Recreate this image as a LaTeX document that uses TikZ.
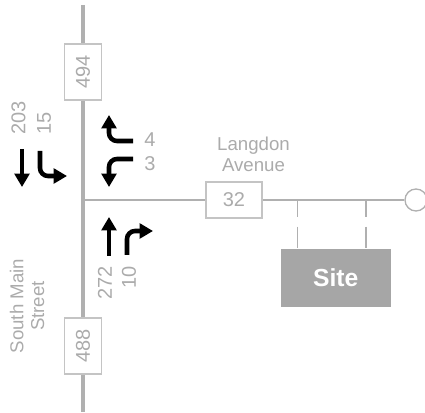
\documentclass[tikz,border=0pt]{standalone}
\usepackage{fontspec}
\setmainfont{Liberation Sans}
\usetikzlibrary{arrows.meta}
\definecolor{roadgray}{HTML}{B0B0B0}
\definecolor{textgray}{HTML}{ABABAB}
\definecolor{boxgray}{HTML}{C4C4C4}
\definecolor{sitegray}{HTML}{A6A6A6}
\tikzset{
  mainroad/.style={draw=roadgray,line width=3pt},
  sideroad/.style={draw=roadgray,line width=1.4pt},
  drive/.style={draw=roadgray,line width=1pt,dash pattern=on 13pt off 7pt on 16pt off 2pt},
  volbox/.style={draw=boxgray,fill=white,line width=0.9pt,inner sep=0pt,text=textgray,font=\fontsize{15}{18}\selectfont},
  lbl/.style={text=textgray,inner sep=0pt,font=\fontsize{15}{18}\selectfont},
  streetlbl/.style={text=textgray,inner sep=0pt,align=center,font=\fontsize{14}{16.5}\selectfont},
  mvt/.style={draw=black,line width=3.4pt,-{Triangle[length=10pt,width=11pt]}},
}
\begin{document}
\begin{tikzpicture}[x=0.75pt,y=-0.75pt]
\useasboundingbox (0,0) rectangle (425,413);
\coordinate (rt) at (83,5);
\coordinate (rb) at (83,412);
\coordinate (rj) at (83,200);
\draw[mainroad] (rt) -- (rb);
\node[draw=roadgray,line width=1pt,fill=white,circle,minimum size=16.5pt,inner sep=0pt] (cul) at (416,200) {};
\draw[sideroad] (rj) -- (cul.west);
\node[volbox,minimum width=27.5pt,minimum height=42pt] (b494) at (83,72) {\rotatebox{90}{494}};
\node[volbox,minimum width=27.5pt,minimum height=42pt] (b488) at (83,346) {\rotatebox{90}{488}};
\node[volbox,minimum width=42pt,minimum height=27pt] (b32) at (234,200) {32};
\node[fill=sitegray,minimum width=82.5pt,minimum height=43.5pt,inner sep=0pt,text=white,font=\bfseries\fontsize{18.5}{20}\selectfont] (site) at (335.7,278) {Site};
\coordinate (d1) at (297.5,200);
\coordinate (d2) at (366,200);
\draw[drive] (d1) -- (d1 |- site.north);
\draw[drive] (d2) -- (d2 |- site.north);
% street labels
\node[streetlbl,anchor=south] (ln) at (253.5,172) {Langdon\\[-1pt]Avenue};
\node[streetlbl,rotate=90] (sm) at (27,306) {South Main\\[-1pt]Street};
% volumes
\node[lbl,rotate=90,anchor=west] (v203) at (18.5,135) {203};
\node[lbl,rotate=90,anchor=west] (v15) at (44,135) {15};
\node[lbl,anchor=west] (v4) at (144,140) {4};
\node[lbl,anchor=west] (v3) at (144,164) {3};
\node[lbl,rotate=90,anchor=east] (v272) at (105,266) {272};
\node[lbl,rotate=90,anchor=east] (v10) at (129,266) {10};
% movement arrows
\coordinate (a1s) at (22,149);  \coordinate (a1e) at (22,187);
\draw[mvt] (a1s) -- (a1e);
\coordinate (a2s) at (40,151); \coordinate (a2e) at (67,176);
\draw[mvt,rounded corners=6pt] (a2s) -- (40,176) -- (a2e);
\coordinate (a3s) at (133,141); \coordinate (a3e) at (109,115);
\draw[mvt,rounded corners=6pt] (a3s) -- (109,141) -- (a3e);
\coordinate (a4s) at (133,159); \coordinate (a4e) at (109,187);
\draw[mvt,rounded corners=6pt] (a4s) -- (109,159) -- (a4e);
\coordinate (a5s) at (109,256); \coordinate (a5e) at (109,217);
\draw[mvt] (a5s) -- (a5e);
\coordinate (a6s) at (127,255); \coordinate (a6e) at (153,231);
\draw[mvt,rounded corners=6pt] (a6s) -- (127,231) -- (a6e);
\end{tikzpicture}
\end{document}
